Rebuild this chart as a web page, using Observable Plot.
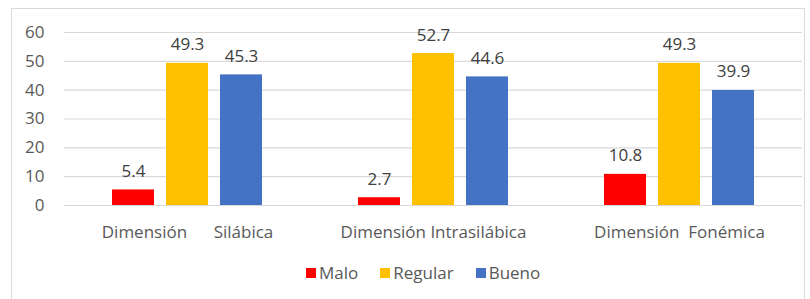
<!DOCTYPE html>
<html>
<head>
<meta charset="utf-8">
<script src="https://cdn.jsdelivr.net/npm/d3@7"></script>
<script src="https://cdn.jsdelivr.net/npm/@observablehq/plot@0.6"></script>
<style>
  body { margin: 0; background: #fff; font-family: "Open Sans", sans-serif; }
  #frame { position: absolute; left: 11px; top: 8px; width: 794px; height: 300px; border: 1px solid #d9d9d9; box-sizing: border-box; }
  #chart { position: absolute; left: 0; top: 0; }
  #legend { position: absolute; left: 306px; top: 262px; display: flex; font-size: 17px; line-height: 22px; color: #595959; }
  .item { display: flex; align-items: center; margin-right: 22px; }
  .sw { width: 10px; height: 10px; margin-right: 3px; }
</style>
</head>
<body>
<div id="frame"></div>
<div id="chart"></div>
<div id="legend"></div>
<script>
const groups = ["Dimensión\u00a0\u00a0\u00a0\u00a0\u00a0\u00a0Silábica", "Dimensión Intrasilábica", "Dimensión\u00a0\u00a0Fonémica"];
const series = ["Malo", "Regular", "Bueno"];
const colors = ["#FF0000", "#FFC000", "#4472C4"];
const malo = [5.4, 2.7, 10.8];
const regular = [49.3, 52.7, 49.3];
const bueno = [45.3, 44.6, 39.9];
const yTicks = [0, 10, 20, 30, 40, 50, 60];

const valuesBySeries = [malo, regular, bueno];
const data = [];
groups.forEach((g, gi) => series.forEach((s, si) => data.push({group: g, series: s, value: valuesBySeries[si][gi]})));

const plot = Plot.plot({
  width: 810,
  height: 250,
  marginLeft: 63,
  marginRight: 7,
  marginTop: 32,
  marginBottom: 45,
  style: {fontFamily: "Open Sans, sans-serif", fontSize: "17px", color: "#595959", background: "transparent"},
  fx: {domain: groups, padding: 0, label: null, tickSize: 0, tickPadding: 20},
  x: {domain: series, paddingInner: 0.218, paddingOuter: 0.85, axis: null},
  y: {domain: [0, 60], ticks: yTicks, tickSize: 0, tickPadding: 20, label: null, grid: false},
  color: {domain: series, range: colors},
  marks: [
    Plot.ruleY(yTicks, {stroke: "#d9d9d9", strokeWidth: 1.2, strokeOpacity: 1}),
    Plot.barY(data, {fx: "group", x: "series", y: "value", fill: "series"}),
    Plot.text(data, {fx: "group", x: "series", y: "value", text: d => d.value.toFixed(1), dy: -13, lineAnchor: "bottom", fill: "#404040", fontSize: 17})
  ]
});
document.getElementById("chart").appendChild(plot);

const legend = document.getElementById("legend");
series.forEach((s, i) => {
  const item = document.createElement("div");
  item.className = "item";
  item.innerHTML = `<span class="sw" style="background:${colors[i]}"></span><span>${s}</span>`;
  legend.appendChild(item);
});
</script>
</body>
</html>
